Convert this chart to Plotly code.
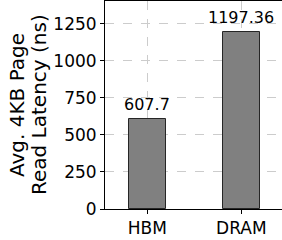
import plotly.graph_objects as go

categories = ["HBM", "DRAM"]
values = [607.7, 1197.36]
labels = ["607.7", "1197.36"]
y_ticks = [0, 250, 500, 750, 1000, 1250]
y_title_lines = ["Avg. 4KB Page", "Read Latency (ns)"]

fig = go.Figure()
fig.add_trace(go.Bar(
    x=[0, 1], y=values, width=0.4,
    marker=dict(color="#808080", line=dict(color="#262626", width=1)),
    hoverinfo="skip",
))
for i, (v, t) in enumerate(zip(values, labels)):
    fig.add_annotation(x=i, y=v, text=t, showarrow=False, yanchor="bottom", yshift=3,
                       font=dict(family="DejaVu Sans", size=16, color="black"))
for line, shift in zip(y_title_lines, [-88, -66]):
    fig.add_annotation(x=0, y=0.5, xref="paper", yref="paper", text=line, textangle=-90,
                       showarrow=False, xanchor="center", yanchor="middle", xshift=shift,
                       font=dict(family="DejaVu Sans", size=20, color="black"))
fig.update_layout(
    width=284, height=240,
    margin=dict(l=105, r=0, t=1, b=31),
    paper_bgcolor="white", plot_bgcolor="white",
    showlegend=False,
    font=dict(family="DejaVu Sans", color="black"),
    bargap=0,
)
fig.update_xaxes(
    range=[-0.45, 1.454], tickvals=[0, 1], ticktext=categories,
    tickfont=dict(size=17), ticks="outside", ticklen=4, tickcolor="black",
    showline=True, linecolor="black", linewidth=1, mirror=True,
    showgrid=True, gridcolor="#cccccc", griddash="dash", gridwidth=1,
    zeroline=False, automargin=False,
)
fig.update_yaxes(
    range=[0, 1405], tickvals=y_ticks,
    tickfont=dict(size=17), ticks="outside", ticklen=4, tickcolor="black",
    showline=True, linecolor="black", linewidth=1, mirror=True,
    showgrid=True, gridcolor="#cccccc", griddash="dash", gridwidth=1,
    zeroline=False, automargin=False,
)
fig.write_html("out.html", config={"displayModeBar": False},
               post_script="document.body.style.margin='0';document.body.style.overflow='hidden';")
